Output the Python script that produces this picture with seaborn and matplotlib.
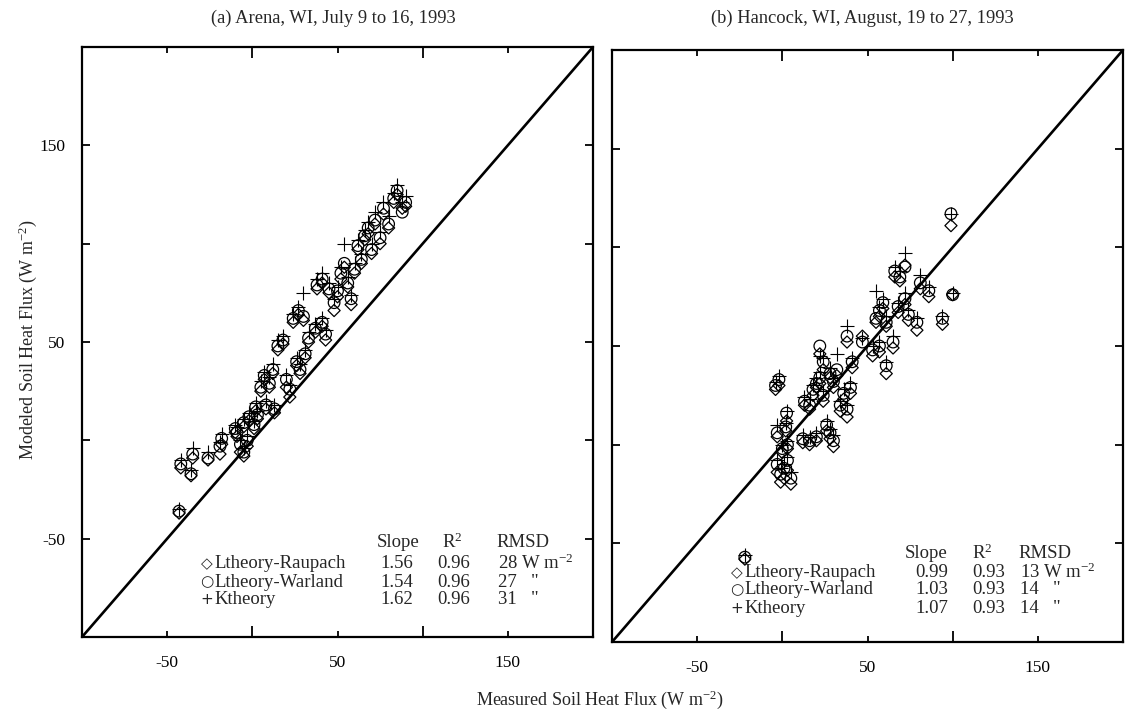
import matplotlib
matplotlib.use("Agg")
import matplotlib.pyplot as plt
import seaborn as sns
import pandas as pd

sns.set_theme(style="ticks")
plt.rcParams["font.family"] = ["Liberation Serif", "DejaVu Sans"]
plt.rcParams["mathtext.fontset"] = "custom"
plt.rcParams["mathtext.rm"] = "Liberation Serif"
plt.rcParams["mathtext.it"] = "Liberation Serif:italic"
plt.rcParams["axes.unicode_minus"] = False

# ---- (a) Arena: measured flux and the three modelled fluxes (W m-2) ----
arena_measured = [-43, -42, -36, -35, -26, -19, -18, -7, -5, -3, -10, -9, -5, -2, 1, 3, 2, 8,
                  13, 5, 7, 10, 12, 15, 18, 20, 22, 26, 28, 31, 24, 27, 30, 33, 37, 41, 43,
                  38, 41, 45, 48, 50, 52, 54, 56, 58, 60, 62, 64, 66, 68, 70, 72, 75, 77,
                  80, 83, 85, 88, 90]
arena_warland = [-36, -12, -17, -7, -9, -3, 1, -2, -6, 0, 6, 4, 9, 12, 8, 13, 17, 18,
                 16, 27, 33, 29, 36, 48, 51, 31, 26, 40, 36, 44, 62, 66, 63, 52, 57, 60, 54,
                 79, 82, 77, 70, 76, 85, 90, 80, 72, 87, 99, 92, 104, 108, 97, 112, 103, 118,
                 110, 123, 127, 116, 121]
arena_raupach = [-37, -14, -18, -9, -10, -7, -2, -6, -8, -3, 4, 2, 7, 10, 6, 11, 15, 16,
                 14, 25, 31, 27, 34, 46, 49, 27, 22, 38, 34, 42, 60, 64, 61, 50, 55, 58, 51,
                 77, 80, 75, 66, 73, 82, 88, 78, 69, 85, 97, 90, 102, 105, 95, 110, 100, 115,
                 108, 121, 125, 118, 119]
arena_ktheory = [-35, -10, -15, -4, -6, -1, 3, 0, -4, 2, 8, 7, 11, 14, 10, 15, 19, 20,
                 18, 30, 35, 32, 39, 51, 53, 33, 28, 42, 39, 46, 64, 68, 75, 55, 59, 62, 56,
                 82, 85, 80, 72, 78, 88, 100, 83, 74, 90, 102, 95, 107, 111, 100, 116, 106, 121,
                 114, 126, 130, 121, 124]

# ---- (b) Hancock ----
hancock_measured = [-22, -3, -1, 1, 3, 5, 0, 3, -3, 2, 2.5, -2, -4, 12, 16, 20, 13, 16, 18,
                    20, 22, 24, 26, 28, 30, 22, 24, 28, 30, 32, 34, 36, 38, 40, 41, 38, 47,
                    53, 57, 61, 55, 57, 59, 61, 65, 68, 72, 74, 66, 69, 72, 79, 81, 86, 94,
                    100, 99]
hancock_warland = [-57, -10, -15, -12, -8, -17, -2, 0, 6, 9, 16, 33, 30, 3, 2, 4, 22, 20, 28,
                   31, 34, 25, 10, 6, 2, 50, 42, 36, 32, 38, 20, 26, 18, 29, 42, 55, 52,
                   48, 50, 40, 64, 68, 72, 62, 52, 70, 74, 66, 88, 85, 90, 62, 82, 78, 64,
                   76, 117]
hancock_raupach = [-58, -14, -19, -17, -13, -20, -4, -2, 4, 7, 12, 30, 28, 1, 0, 2, 20, 18, 25,
                   29, 31, 22, 7, 3, -1, 46, 38, 34, 29, 35, 17, 23, 14, 26, 39, 52, 55,
                   45, 47, 36, 62, 65, 69, 60, 49, 67, 71, 63, 85, 83, 91, 58, 79, 75, 61,
                   76, 111]
hancock_ktheory = [-56, -8, -12, -10, -6, -14, 0, 2, 10, 11, 17, 35, 32, 5, 4, 6, 24, 23, 30,
                   34, 37, 27, 12, 8, 5, 45, 44, 39, 34, 46, 22, 28, 20, 31, 44, 60, 54,
                   50, 52, 42, 78, 70, 74, 65, 55, 72, 77, 68, 90, 88, 97, 64, 86, 80, 65,
                   77, 117]

series_names = ["Ltheory-Raupach", "Ltheory-Warland", "Ktheory"]
series_symbols = ["\u25C7", "\u25CB", "+"]

stats_columns = ["Slope", "R$^{2}$", "RMSD"]
arena_stats = [["1.56", "0.96", "28 W m$^{-2}$"],
               ["1.54", "0.96", "27   \""],
               ["1.62", "0.96", "31   \""]]
hancock_stats = [["0.99", "0.93", "13 W m$^{-2}$"],
                 ["1.03", "0.93", "14   \""],
                 ["1.07", "0.93", "14   \""]]

panel_titles = ["(a) Arena, WI, July 9 to 16, 1993",
                "(b) Hancock, WI, August, 19 to 27, 1993"]
x_label = "Measured Soil Heat Flux (W m$^{-2}$)"
y_label = "Modeled Soil Heat Flux (W m$^{-2}$)"

axis_limits = (-100, 200)
labeled_ticks = [-50, 50, 150]
unlabeled_ticks = [0, 100]


def long_frame(measured, raupach, warland, ktheory):
    frames = []
    for name, values in zip(series_names, [raupach, warland, ktheory]):
        frames.append(pd.DataFrame({"measured": measured, "modeled": values, "model": name}))
    return pd.concat(frames, ignore_index=True)


arena = long_frame(arena_measured, arena_raupach, arena_warland, arena_ktheory)
hancock = long_frame(hancock_measured, hancock_raupach, hancock_warland, hancock_ktheory)

fig = plt.figure(figsize=(11.25, 7.17), dpi=100)
ax_a = fig.add_axes([82 / 1125, 1 - 637 / 717, 511 / 1125, 590 / 717])
ax_b = fig.add_axes([612 / 1125, 1 - 642 / 717, 511 / 1125, 592 / 717])

marker_styles = {
    "Ltheory-Raupach": dict(marker="D", s=38, facecolor="none", edgecolor="black", linewidth=0.9),
    "Ltheory-Warland": dict(marker="o", s=70, facecolor="none", edgecolor="black", linewidth=0.9),
    "Ktheory": dict(marker="+", s=110, color="black", linewidth=0.8),
}

layout = {
    "a": dict(head_y=0.161, rows_y=[0.125, 0.093, 0.063], sym_x=0.232,
              cols_x=[0.577, 0.705, 0.812], vals_x=[0.583, 0.695, 0.814]),
    "b": dict(head_y=0.150, rows_y=[0.117, 0.088, 0.057], sym_x=0.232,
              cols_x=[0.573, 0.705, 0.795], vals_x=[0.593, 0.705, 0.798]),
}

for ax, data, stats, key in [(ax_a, arena, arena_stats, "a"), (ax_b, hancock, hancock_stats, "b")]:
    for name in series_names:
        sns.scatterplot(data=data[data["model"] == name], x="measured", y="modeled",
                        ax=ax, legend=False, **marker_styles[name])
    ax.axline((0, 0), slope=1, color="black", linewidth=1.9)
    ax.set_xlim(*axis_limits)
    ax.set_ylim(*axis_limits)
    ax.set_xlabel("")
    ax.set_ylabel("")
    ax.set_xticks(labeled_ticks)
    ax.set_yticks(labeled_ticks)
    ax.set_xticks(unlabeled_ticks, minor=True)
    ax.set_yticks(unlabeled_ticks, minor=True)
    ax.tick_params(which="both", direction="in", top=True, right=True, color="black",
                   width=1.3, labelsize=12.5, labelcolor="black")
    ax.tick_params(axis="x", which="major", length=4, pad=13)
    ax.tick_params(axis="x", which="minor", length=8)
    ax.tick_params(axis="y", which="both", length=6, pad=12)
    for spine in ax.spines.values():
        spine.set_visible(True)
        spine.set_linewidth(1.6)
        spine.set_color("black")

    lay = layout[key]
    for label, cx in zip(stats_columns, lay["cols_x"]):
        ax.text(cx, lay["head_y"], label, transform=ax.transAxes, fontsize=13.5,
                ha="left", va="center")
    for row, (name, sym, vals) in enumerate(zip(series_names, series_symbols, stats)):
        ry = lay["rows_y"][row]
        ax.text(lay["sym_x"], ry, sym, transform=ax.transAxes, fontsize=11,
                ha="left", va="center", family=["DejaVu Sans"])
        ax.text(lay["sym_x"] + 0.028, ry, name, transform=ax.transAxes, fontsize=13.5,
                ha="left", va="center")
        for v, vx in zip(vals, lay["vals_x"]):
            ax.text(vx, ry, v, transform=ax.transAxes, fontsize=13.5, ha="left", va="center")

ax_b.tick_params(axis="y", which="both", labelleft=False)

fig.text(333 / 1125, 1 - 18 / 717, panel_titles[0], ha="center", va="center", fontsize=13.3)
fig.text(862 / 1125, 1 - 18 / 717, panel_titles[1], ha="center", va="center", fontsize=13.3)
fig.text(600 / 1125, 1 - 700 / 717, x_label, ha="center", va="center", fontsize=13)
fig.text(28 / 1125, 1 - 340 / 717, y_label, ha="center", va="center", rotation=90, fontsize=13)

fig.savefig("out.png", dpi=100, facecolor="white")
